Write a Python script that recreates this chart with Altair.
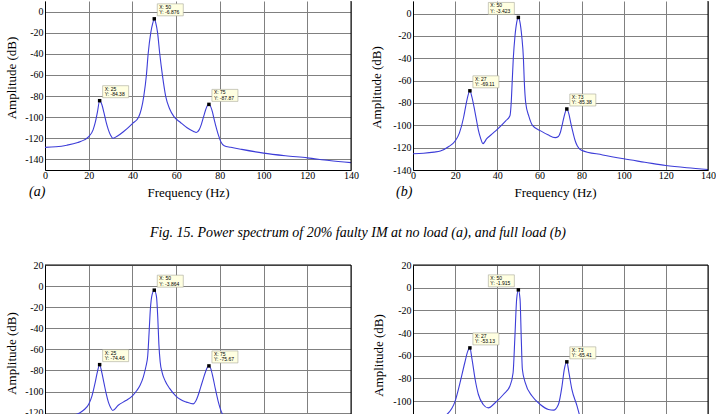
import altair as alt
import pandas as pd

SERIF = "Liberation Serif, Times New Roman, serif"
SANS = "Liberation Sans, Arial, sans-serif"
BLUE = "#3d3dd8"
GRID = "#808080"

# ---------------- data ----------------
# (a) 20% faulty IM, no load
freq_a = [0, 5, 10, 15, 18, 20, 22, 23, 24, 25, 26, 27, 28, 29, 30, 31, 33, 36, 40, 42.8, 45.2, 46.4,
          47.2, 48.4, 49.3, 50, 50.7, 51.5, 52.5, 53.7, 55.2, 57, 59, 62, 65, 68, 69.2, 70.5, 71.5, 72.5,
          73.5, 74.3, 75, 75.8, 76.6, 77.5, 78.5, 79.5, 80.5, 82, 85, 90, 100, 110, 120, 130, 140]
amp_a = [-128.6, -128, -126.5, -124, -121.5, -118.5, -112, -105, -95, -84.4, -88, -96, -105, -112, -117,
         -120, -118, -113.5, -106, -100, -80, -60, -40, -20, -11, -6.9, -11, -20, -40, -60, -80, -92,
         -99.5, -105, -110, -113.5, -114.5, -112, -107, -100, -93, -89, -87.9, -90, -95, -103, -111,
         -118, -123.5, -127, -128.5, -130.5, -134, -136.5, -138.5, -141, -143]
tip_x_a = [25, 50, 75]
tip_y_a = [-84.38, -6.876, -87.87]
tip_side_a = ["right", "right", "right"]

# (b) 20% faulty IM, full load
freq_b = [0, 5, 10, 13, 17, 20, 22, 24, 25, 26, 27, 28, 29, 30, 31, 32, 33.2, 35, 38, 40, 44, 46, 46.6,
          47.1, 47.6, 48.4, 49.2, 50, 50.8, 51.6, 52.4, 52.8, 53.5, 55, 56.7, 60.6, 64, 67.5, 69, 70, 71,
          72, 73, 74, 75, 76, 77, 78, 79.7, 90, 100, 110, 120, 130, 140]
amp_b = [-125.4, -125, -124, -123, -119, -114, -107, -93, -83, -74, -69.1, -75, -84, -94, -104, -111,
         -116.4, -112, -107, -103.6, -96, -91.5, -80, -60, -40, -20, -8, -3.4, -8, -20, -40, -60, -80,
         -92, -100, -105, -108.5, -111, -110, -106, -98, -90, -85.4, -90, -99, -107, -114, -118.5, -122,
         -126.5, -130, -133, -136, -138, -139.5]
tip_x_b = [27, 50, 73]
tip_y_b = [-69.11, -3.423, -85.38]
tip_side_b = ["right", "left", "right"]

# (c) lower-left panel
freq_c = [0, 5, 10, 13, 16, 18, 20, 21.5, 23, 24, 25, 26, 27, 28, 29, 30, 31, 33.5, 37, 40, 42, 43.5, 45,
          46.2, 47, 47.6, 48.2, 49, 50, 51, 51.6, 52.1, 52.7, 53.6, 55, 57, 59.8, 62, 64.8, 67.8, 69, 70,
          71.2, 72.4, 73.5, 74.3, 75, 75.8, 76.8, 78, 79.2, 80.5, 82, 85, 100, 140]
amp_c = [-128, -126.5, -124, -122.5, -120, -117, -112, -104, -91, -81, -74.5, -82, -92, -102, -110, -115,
         -118, -113, -108.5, -104, -99, -94, -86, -76, -66, -45, -22, -8, -3.9, -10, -30, -55, -72, -82,
         -90, -97, -104, -107.5, -110, -111.7, -109, -104, -96, -88, -81, -77, -75.7, -78, -86, -98,
         -109, -118, -124, -128, -132, -140]
tip_x_c = [25, 50, 75]
tip_y_c = [-74.46, -3.864, -75.67]
tip_side_c = ["right", "right", "right"]

# (d) lower-right panel
freq_d = [0, 10, 15, 20, 22.3, 24.6, 26, 27, 28, 29.5, 31, 33.3, 35.7, 39, 43, 46, 47.5, 48.3, 49.2, 50,
          50.8, 51.4, 51.9, 53.3, 56.5, 60.4, 64.3, 66.7, 69, 70.7, 71.8, 73, 74, 75.4, 77.8, 79.3, 81,
          85, 100, 120, 140]
amp_d = [-125, -122, -114, -100, -84, -66, -56, -53.1, -63, -81, -94, -103, -106, -101.5, -94, -86.7,
         -75, -46, -10, -1.9, -10, -46, -72, -84, -95.6, -103, -107.4, -108, -103, -87, -72, -65.4, -75,
         -89.7, -104, -114, -122, -127, -131, -135, -138]
tip_x_d = [27, 50, 73]
tip_y_d = [-53.13, -1.915, -65.41]
tip_side_d = ["right", "left", "right"]

x_ticks = [0, 20, 40, 60, 80, 100, 120, 140]
caption = "Fig. 15. Power spectrum of 20% faulty IM at no load (a), and full load (b)"

dummy = pd.DataFrame({"d": [0]})
HYPHEN = "replace(datum.label, '\u2212', '-')"


def panel(freq, amp, tx, ty, tside, ydom, yvals, W, H, top_row, ytx, yty,
          xtx=None, letter=None, letter_x=None, cap=None):
    xscale = alt.Scale(domain=[0, 140], nice=False, zero=False)
    yscale = alt.Scale(domain=ydom, nice=False, zero=False)
    lbl = dict(labelFont=SERIF, labelFontSize=10, labelColor="black",
               labelFlush=False, labelOverlap=False, labelExpr=HYPHEN)
    if top_row:
        xaxis = alt.Axis(values=x_ticks, grid=True, gridColor=GRID, gridWidth=1, ticks=False,
                         domain=True, domainColor="black", domainWidth=1, labelPadding=0,
                         title="Frequency (Hz)", titleFont=SERIF, titleFontSize=13,
                         titleFontWeight=400, titleColor="black", titleX=xtx, titleY=22,
                         titleBaseline="middle", **lbl)
    else:
        xaxis = alt.Axis(values=x_ticks, grid=True, gridColor=GRID, gridWidth=1, ticks=False,
                         domain=False, labels=False, title="")
    yaxis = alt.Axis(values=yvals, grid=True, gridColor=GRID, gridWidth=1, ticks=False,
                     domain=True, domainColor="black", domainWidth=1, labelPadding=2,
                     title="Amplitude (dB)", titleFont=SERIF, titleFontSize=13,
                     titleFontWeight=400, titleColor="black", titleX=ytx, titleY=yty,
                     titleBaseline="middle", **lbl)
    enc_pt = dict(x=alt.X("f:Q", scale=xscale, axis=xaxis),
                  y=alt.Y("a:Q", scale=yscale, axis=yaxis))
    df = pd.DataFrame({"f": freq, "a": amp})
    line = alt.Chart(df).mark_line(color=BLUE, strokeWidth=1.1, clip=True,
                                   interpolate="monotone").encode(**enc_pt)

    tdf = pd.DataFrame({"f": tx, "a": ty, "side": tside,
                        "label": [f"X: {x}\nY: {y}" for x, y in zip(tx, ty)]})
    tips = alt.Chart(tdf)
    layers = [line]
    for side, xo1, xo2, dx in [("right", 3, 29, 5), ("left", -30, -4, -28)]:
        sub = tips.transform_filter(alt.datum.side == side)
        layers.append(sub.mark_rect(fill="#ffffe1", stroke="#a8a898", strokeWidth=0.6,
                                    xOffset=xo1, x2Offset=xo2, yOffset=-15, y2Offset=-3).encode(
            x2=alt.X2("f:Q"), y2=alt.Y2("a:Q"), **enc_pt))
        layers.append(sub.mark_text(align="left", baseline="top", dx=dx, dy=-14, fontSize=5,
                                    font=SANS, lineBreak="\n", lineHeight=5.5,
                                    color="black").encode(text="label:N", **enc_pt))
    layers.append(tips.mark_square(size=12, color="black", opacity=1, filled=True).encode(**enc_pt))

    # box borders (right always, top for lower row)
    layers.append(alt.Chart(dummy).mark_rule(color="black", strokeWidth=1).encode(
        x=alt.value(W), y=alt.value(0), y2=alt.value(H)))
    if not top_row:
        layers.append(alt.Chart(dummy).mark_rule(color="black", strokeWidth=1).encode(
            x=alt.value(0), x2=alt.value(W), y=alt.value(0)))
    if letter:
        layers.append(alt.Chart(dummy).mark_text(font=SERIF, fontSize=14, fontStyle="italic",
                                                 align="left", baseline="middle",
                                                 color="black").encode(
            x=alt.value(letter_x), y=alt.value(191), text=alt.value(letter)))
    if cap:
        layers.append(alt.Chart(dummy).mark_text(font=SERIF, fontSize=14, fontStyle="italic",
                                                 align="center", baseline="middle",
                                                 color="black").encode(
            x=alt.value(313), y=alt.value(232), text=alt.value(cap)))
    return alt.layer(*layers).properties(width=W, height=H)


yv_a = [-140, -120, -100, -80, -60, -40, -20, 0]
yv_c = [-120, -100, -80, -60, -40, -20, 0, 20]
yv_d = [-100, -80, -60, -40, -20, 0, 20]

pa = panel(freq_a, amp_a, tip_x_a, tip_y_a, tip_side_a, [-150, 10], yv_a, 306, 169, True,
           -33.5, 76.5, xtx=143, letter="(a)", letter_x=-16, cap=caption)
pb = panel(freq_b, amp_b, tip_x_b, tip_y_b, tip_side_b, [-140, 11.3], yv_a, 295, 169, True,
           -36.5, 86, xtx=142, letter="(b)", letter_x=-17)
pc = panel(freq_c, amp_c, tip_x_c, tip_y_c, tip_side_c, [-122.2, 20], yv_c, 306, 150, False,
           -33.5, 88)
pd_ = panel(freq_d, amp_d, tip_x_d, tip_y_d, tip_side_d, [-112.3, 20], yv_d, 295, 150, False,
            -35, 90)

chart = alt.concat(pa, pb, pc, pd_, columns=2, spacing={"row": 95, "column": 62},
                   bounds="flush").properties(
    padding={"left": 5, "top": 0, "right": 0, "bottom": 0},
    background="white",
).configure_view(stroke=None).configure_axis(
    labelFont=SERIF, titleFont=SERIF, titleFontWeight=400, labelColor="black",
    titleColor="black", labelFontSize=10, titleFontSize=13,
)

chart.save("out.html", embed_options={"renderer": "svg", "actions": False})
